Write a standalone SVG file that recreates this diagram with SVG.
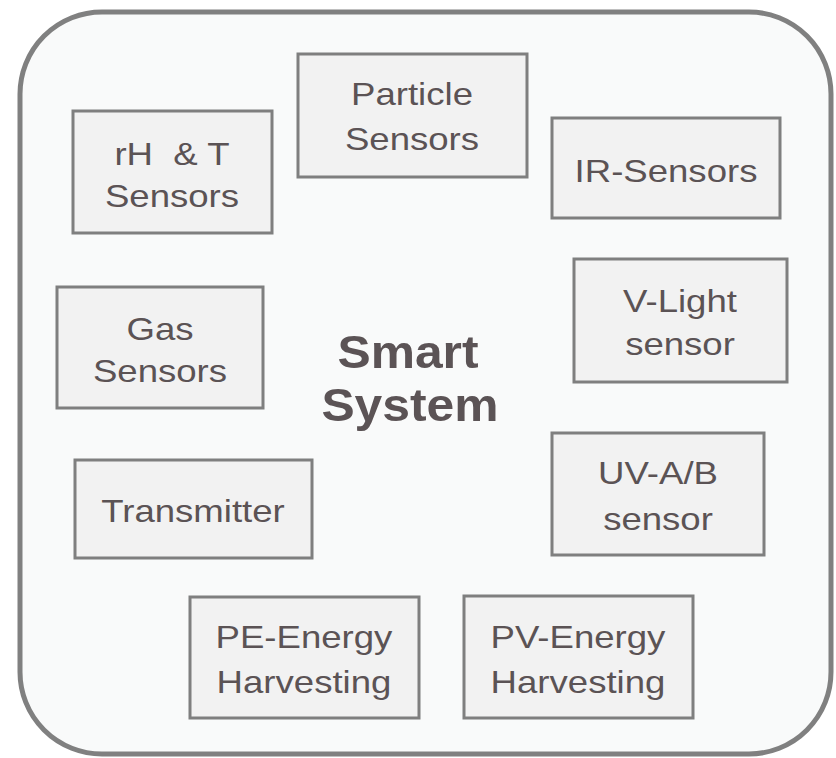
<svg xmlns="http://www.w3.org/2000/svg" width="836" height="758" viewBox="0 0 836 758">
<style>
.box{fill:#f2f2f2;stroke:#7f7f7f;stroke-width:3}
.t{font-family:"Liberation Sans",Arial,sans-serif;font-size:31px;fill:#5b5355;text-anchor:middle;white-space:pre}
.b{font-family:"Liberation Sans",Arial,sans-serif;font-size:47px;font-weight:bold;fill:#5b5355;text-anchor:middle}
</style>
<rect width="836" height="758" fill="#ffffff"/>
<g id="frame">
<rect x="20" y="12" width="811" height="742" rx="82" ry="82" fill="#f9fafa" stroke="#808080" stroke-width="5"/>
</g>
<g id="center-label">
<text class="b" transform="translate(408,368) scale(1.06,1)">Smart</text>
<text class="b" transform="translate(410,421) scale(1.06,1)">System</text>
</g>
<g id="connectors"></g>
<g id="rh-t">
<rect class="box" x="73" y="111" width="199" height="122"/>
<text class="t" transform="translate(172,165) scale(1.18,1)">rH  &amp; T</text>
<text class="t" transform="translate(172,207) scale(1.18,1)">Sensors</text>
</g>
<g id="particle">
<rect class="box" x="298" y="54" width="229" height="123"/>
<text class="t" transform="translate(412,105) scale(1.18,1)">Particle</text>
<text class="t" transform="translate(412,150) scale(1.18,1)">Sensors</text>
</g>
<g id="ir">
<rect class="box" x="552" y="118" width="228" height="100"/>
<text class="t" transform="translate(666,182) scale(1.18,1)">IR-Sensors</text>
</g>
<g id="vlight">
<rect class="box" x="574" y="259" width="213" height="123"/>
<text class="t" transform="translate(680,312) scale(1.18,1)">V-Light</text>
<text class="t" transform="translate(680,355) scale(1.18,1)">sensor</text>
</g>
<g id="gas">
<rect class="box" x="57" y="287" width="206" height="121"/>
<text class="t" transform="translate(160,340) scale(1.18,1)">Gas</text>
<text class="t" transform="translate(160,382) scale(1.18,1)">Sensors</text>
</g>
<g id="transmitter">
<rect class="box" x="75" y="460" width="237" height="98"/>
<text class="t" transform="translate(193,522) scale(1.18,1)">Transmitter</text>
</g>
<g id="uv">
<rect class="box" x="552" y="433" width="212" height="122"/>
<text class="t" transform="translate(658,484) scale(1.18,1)">UV-A/B</text>
<text class="t" transform="translate(658,530) scale(1.18,1)">sensor</text>
</g>
<g id="pe">
<rect class="box" x="190" y="597" width="229" height="121"/>
<text class="t" transform="translate(304,648) scale(1.18,1)">PE-Energy</text>
<text class="t" transform="translate(304,693) scale(1.18,1)">Harvesting</text>
</g>
<g id="pv">
<rect class="box" x="464" y="596" width="229" height="122"/>
<text class="t" transform="translate(578,648) scale(1.18,1)">PV-Energy</text>
<text class="t" transform="translate(578,693) scale(1.18,1)">Harvesting</text>
</g>
</svg>
